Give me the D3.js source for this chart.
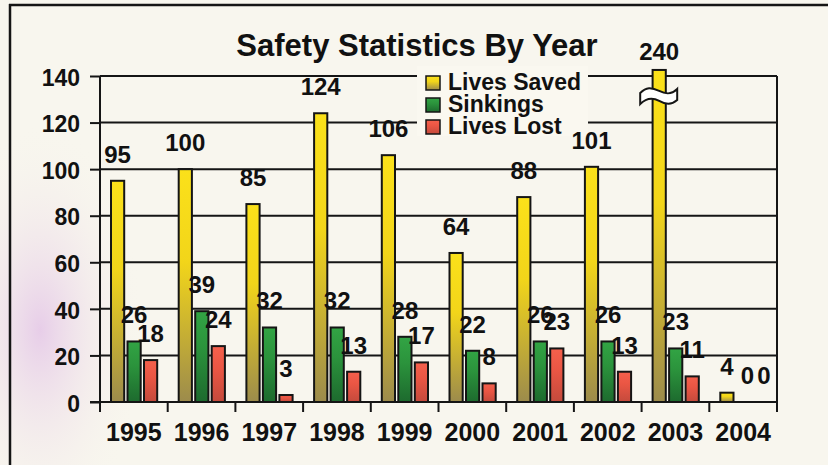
<!DOCTYPE html>
<html><head><meta charset="utf-8">
<script src="https://cdn.jsdelivr.net/npm/d3@7"></script>
<style>
html,body{margin:0;padding:0;background:#f7f5ec;}
svg{display:block;font-family:"Liberation Sans",Arial,Helvetica,sans-serif;}
</style></head>
<body>
<svg id="chart" width="828" height="465"></svg>
<script>
const years = ["1995","1996","1997","1998","1999","2000","2001","2002","2003","2004"];
const seriesNames = ["Lives Saved","Sinkings","Lives Lost"];
const livesSaved = [95,100,85,124,106,64,88,101,240,4];
const sinkings = [26,39,32,32,28,22,26,26,23,0];
const livesLost = [18,24,3,13,17,8,23,13,11,0];
const yTicks = [0,20,40,60,80,100,120,140];

(function(){
const svg = d3.select("#chart");
const W = 828, H = 465;
const pLeft = 100, pRight = 777, pTop = 76, pBottom = 402;

const defs = svg.append("defs");
const bgGrad = defs.append("radialGradient").attr("id","pink")
  .attr("gradientUnits","userSpaceOnUse").attr("cx",40).attr("cy",330).attr("r",170)
  .attr("gradientTransform","translate(40,330) scale(0.6,1.2) translate(-40,-330)");
bgGrad.append("stop").attr("offset","0").attr("stop-color","#e6cbe8").attr("stop-opacity",0.95);
bgGrad.append("stop").attr("offset","1").attr("stop-color","#f7f5ec").attr("stop-opacity",0);
svg.append("rect").attr("width",W).attr("height",H).attr("fill","#f8f6ee");
svg.append("rect").attr("width",W).attr("height",H).attr("fill","url(#pink)");

const colorDefs = {
  "Lives Saved": ["#fbe11a","#f2d51a","#9c8b4c"],
  "Sinkings": ["#32a444","#2b933c","#1d6a2e"],
  "Lives Lost": ["#f4604c","#ea5644","#c44a3c"]
};
seriesNames.forEach((s,i)=>{
  const g = defs.append("linearGradient").attr("id","g"+i).attr("x1",0).attr("y1",0).attr("x2",0).attr("y2",1);
  g.append("stop").attr("offset","0").attr("stop-color",colorDefs[s][0]);
  g.append("stop").attr("offset","0.4").attr("stop-color",colorDefs[s][1]);
  g.append("stop").attr("offset","1").attr("stop-color",colorDefs[s][2]);
});

const y = d3.scaleLinear().domain([0,140]).range([pBottom, pTop]);
const x = d3.scaleBand().domain(years).range([pLeft, pRight]);
const xs = d3.scaleBand().domain(seriesNames).range([11, x.bandwidth()-10.5]).paddingInner(0.2);

svg.append("g").selectAll("line").data(yTicks.filter(t=>t>0)).join("line")
  .attr("x1",pLeft).attr("x2",pRight).attr("y1",d=>y(d)).attr("y2",d=>y(d))
  .attr("stroke","#151515").attr("stroke-width",2);

const yAxis = svg.append("g").attr("transform",`translate(${pLeft},0)`)
  .call(d3.axisLeft(y).tickValues(yTicks).tickSize(10).tickPadding(10));
yAxis.select(".domain").attr("stroke","#151515").attr("stroke-width",2).attr("d",`M0,${pTop}V${pBottom}`);
yAxis.selectAll(".tick line").attr("stroke","#151515").attr("stroke-width",2);
yAxis.selectAll(".tick text").attr("font-size",23).attr("font-weight","bold").attr("fill","#111")
  .attr("font-family","Liberation Sans, Arial, sans-serif").attr("dy","0.4em");

const xAxis = svg.append("g").attr("transform",`translate(0,${pBottom})`)
  .call(d3.axisBottom(x).tickSize(0).tickPadding(21));
xAxis.select(".domain").remove();
xAxis.selectAll(".tick text").attr("font-size",25).attr("font-weight","bold").attr("fill","#111")
  .attr("font-family","Liberation Sans, Arial, sans-serif");
const bounds = years.map(yv=>x(yv)).concat([pRight]);
svg.append("g").selectAll("line").data(bounds).join("line")
  .attr("x1",d=>d).attr("x2",d=>d).attr("y1",pBottom).attr("y2",pBottom+10)
  .attr("stroke","#151515").attr("stroke-width",2);
svg.append("line").attr("x1",pLeft-10).attr("x2",pRight).attr("y1",pBottom).attr("y2",pBottom)
  .attr("stroke","#151515").attr("stroke-width",2);
svg.append("line").attr("x1",pRight).attr("x2",pRight).attr("y1",pTop).attr("y2",pBottom+10)
  .attr("stroke","#151515").attr("stroke-width",2);

const data = [];
years.forEach((yr,i)=>{
  [livesSaved[i],sinkings[i],livesLost[i]].forEach((v,j)=>{
    data.push({year:yr, series:seriesNames[j], idx:j, value:v});
  });
});
const overTop = 142.6;

// legend background (under labels)
const lg = svg.append("g").attr("transform","translate(417,66)");
lg.append("rect").attr("x",0).attr("y",0).attr("width",171).attr("height",70).attr("fill","#faf8f0");
seriesNames.forEach((s,i)=>{
  lg.append("rect").attr("x",9).attr("y",10+i*22).attr("width",14).attr("height",14)
    .attr("fill",`url(#g${i})`).attr("stroke","#151515").attr("stroke-width",1.5);
  lg.append("text").attr("x",31).attr("y",24+i*22).attr("font-size",23).attr("font-weight","bold")
    .attr("fill","#111").text(s);
});

svg.append("g").selectAll("rect").data(data.filter(d=>d.value>0)).join("rect")
  .attr("x",d=>x(d.year)+xs(d.series))
  .attr("width",xs.bandwidth())
  .attr("y",d=>y(Math.min(d.value,overTop)))
  .attr("height",d=>pBottom-y(Math.min(d.value,overTop)))
  .attr("fill",d=>`url(#g${d.idx})`)
  .attr("stroke","#151515").attr("stroke-width",2);

data.filter(d=>d.value>140).forEach(d=>{
  const cx = x(d.year)+xs(d.series)+xs.bandwidth()/2;
  const x0 = cx-19, x1 = cx+18, yb = y(134);
  const p = `M${x0},${yb+3} C${x0+6},${yb-3} ${x0+11},${yb-3} ${cx},${yb+1} S${x1-5},${yb+4} ${x1},${yb-1}
    L${x1},${yb+10} C${x1-6},${yb+15} ${x1-11},${yb+15} ${cx},${yb+11} S${x0+5},${yb+9} ${x0},${yb+14} Z`;
  svg.append("path").attr("d",p).attr("fill","#ffffff").attr("stroke","#151515").attr("stroke-width",2);
});

svg.append("g").selectAll("text").data(data).join("text")
  .attr("x",d=>x(d.year)+xs(d.series)+xs.bandwidth()/2 + (d.value===0 ? 4 : 0))
  .attr("y",d=>y(Math.min(d.value,overTop)) - (d.value>140 ? 10 : 18))
  .attr("text-anchor","middle")
  .attr("font-size",24).attr("font-weight","bold").attr("fill","#111")
  .text(d=>d.value);

svg.append("text").attr("x",417).attr("y",56).attr("text-anchor","middle")
  .attr("font-size",31).attr("font-weight","bold").attr("fill","#111")
  .text("Safety Statistics By Year");

svg.append("line").attr("x1",9).attr("x2",W).attr("y1",5).attr("y2",5).attr("stroke","#151515").attr("stroke-width",2.5);
svg.append("line").attr("x1",10).attr("x2",10).attr("y1",4).attr("y2",H).attr("stroke","#151515").attr("stroke-width",2.5);
})();
</script>
</body></html>
